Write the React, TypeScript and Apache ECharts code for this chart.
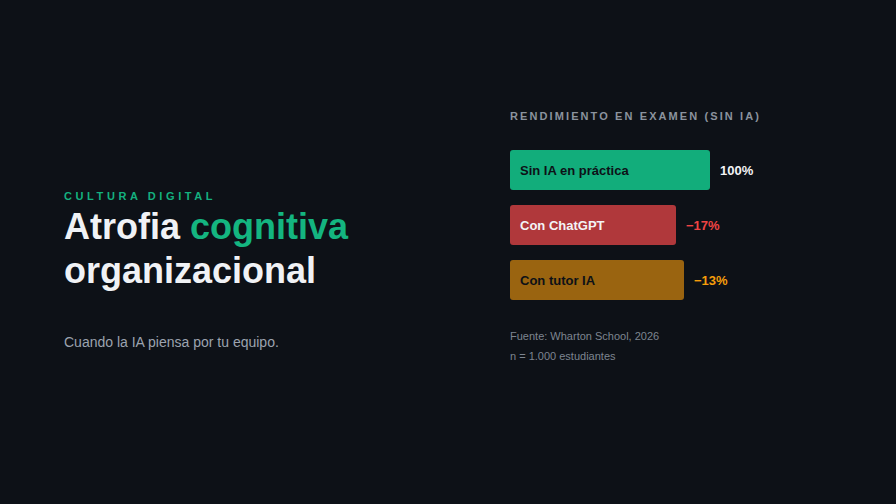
import React, { useEffect, useRef } from "react";
import * as echarts from "echarts";

const categories = ["Sin IA en práctica", "Con ChatGPT", "Con tutor IA"];
const values = [100, 83, 87];
const deltaLabels = ["100%", "−17%", "−13%"];
const barColors = ["#12ad7b", "#b0383b", "#9a6410"];
const nameColors = ["#0d1117", "#f3f4f6", "#0d1117"];
const deltaColors = ["#f3f4f6", "#ef4444", "#f59e0b"];

const FONT = '"Liberation Sans", Arial, Helvetica, sans-serif';

export default function App() {
  const ref = useRef<HTMLDivElement>(null);
  useEffect(() => {
    if (!ref.current) return;
    const chart = echarts.init(ref.current, null, { renderer: "svg" });
    chart.setOption({
      animation: false,
      backgroundColor: "#0d1117",
      grid: { left: 510, top: 142.5, width: 200, height: 165 },
      xAxis: { type: "value", min: 0, max: 100, show: false },
      yAxis: {
        type: "category",
        data: categories,
        inverse: true,
        show: false,
      },
      graphic: [
        {
          type: "text",
          left: 64,
          top: 190,
          style: { text: "CULTURA DIGITAL", fill: "#14b07f", font: `bold 11px ${FONT}` },
        },
        {
          type: "text",
          left: 64,
          top: 208,
          style: {
            text: "{w|Atrofia }{g|cognitiva}\n{w|organizacional}",
            rich: {
              w: { fill: "#f0f2f5", font: `bold 36px ${FONT}`, lineHeight: 44 },
              g: { fill: "#14b580", font: `bold 36px ${FONT}`, lineHeight: 44 },
            },
          },
        },
        {
          type: "text",
          left: 64,
          top: 335,
          style: { text: "Cuando la IA piensa por tu equipo.", fill: "#9ca3af", font: `14px ${FONT}` },
        },
        {
          type: "text",
          left: 510,
          top: 110,
          style: { text: "RENDIMIENTO EN EXAMEN (SIN IA)", fill: "#8b939e", font: `bold 11px ${FONT}` },
        },
        {
          type: "text",
          left: 510,
          top: 330,
          style: { text: "Fuente: Wharton School, 2026", fill: "#7d8590", font: `11px ${FONT}` },
        },
        {
          type: "text",
          left: 510,
          top: 350,
          style: { text: "n = 1.000 estudiantes", fill: "#7d8590", font: `11px ${FONT}` },
        },
      ],
      series: [
        {
          type: "bar",
          barWidth: 40,
          data: values.map((v, i) => ({
            value: v,
            itemStyle: { color: barColors[i], borderRadius: 3 },
            label: {
              show: true,
              position: "insideLeft",
              distance: 10,
              formatter: categories[i],
              color: nameColors[i],
              fontFamily: FONT,
              fontWeight: "bold",
              fontSize: 13,
            },
          })),
          silent: true,
        },
        {
          type: "bar",
          barWidth: 40,
          barGap: "-100%",
          data: values.map((v, i) => ({
            value: v,
            itemStyle: { color: "transparent" },
            label: {
              show: true,
              position: "right",
              distance: 10,
              formatter: deltaLabels[i],
              color: deltaColors[i],
              fontFamily: FONT,
              fontWeight: "bold",
              fontSize: 13,
            },
          })),
          silent: true,
        },
      ],
    });
    const spacing: Record<string, string> = {
      "CULTURA DIGITAL": "3.6",
      "RENDIMIENTO EN EXAMEN (SIN IA)": "2.1",
    };
    ref.current.querySelectorAll("text").forEach((t) => {
      const s = spacing[(t.textContent || "").trim()];
      if (s) t.setAttribute("letter-spacing", s);
    });
    return () => chart.dispose();
  }, []);
  return (
    <div style={{ position: "fixed", inset: 0, background: "#0d1117" }}>
      <div ref={ref} style={{ width: 896, height: 504 }} />
    </div>
  );
}
